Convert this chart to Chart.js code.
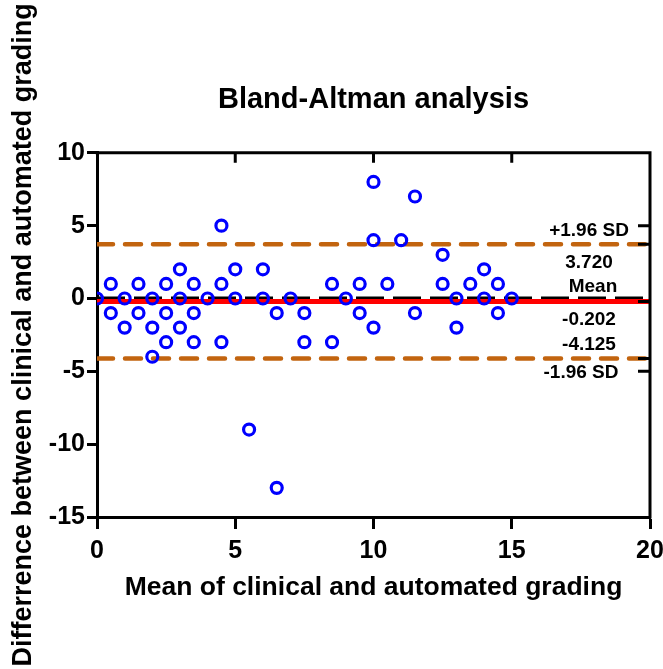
<!DOCTYPE html>
<html>
<head>
<meta charset="utf-8">
<title>Bland-Altman analysis</title>
<script src="https://cdn.jsdelivr.net/npm/chart.js@4.4.0/dist/chart.umd.min.js"></script>
<style>
  html, body { margin: 0; padding: 0; background: #fff; }
  #wrap { width: 663px; height: 669px; }
</style>
</head>
<body>
<div id="wrap"><canvas id="myChart" width="663" height="669"></canvas></div>
<script>
// mean of the two gradings (x) and their difference (y), one entry per case
const meanVals = [0, 0.5, 0.5, 1, 1, 1.5, 1.5, 2, 2, 2, 2.5, 2.5, 2.5, 3, 3, 3, 3.5, 3.5, 3.5, 4,
                  4.5, 4.5, 4.5, 5, 5, 5.5, 6, 6, 6.5, 6.5, 7, 7.5, 7.5, 8.5, 8.5, 9, 9.5, 9.5,
                  10, 10, 10, 10.5, 11, 11.5, 11.5, 12.5, 12.5, 13, 13, 13.5, 14, 14, 14.5, 14.5, 15];
const diffVals = [0, 1, -1, 0, -2, 1, -1, 0, -2, -4, 1, -1, -3, 2, 0, -2, 1, -1, -3, 0,
                  5, 1, -3, 2, 0, -9, 2, 0, -1, -13, 0, -1, -3, 1, -3, 0, 1, -1,
                  8, 4, -2, 1, 4, 7, -1, 3, 1, 0, -2, 1, 2, 0, 1, -1, 0];

// bias and limits of agreement
const bias = -0.202;
const upperLoA = 3.720;
const lowerLoA = -4.125;

// axis ticks
const xTicks = [0, 5, 10, 15, 20];
const yTicks = [-15, -10, -5, 0, 5, 10];
const topTicks = [5, 10, 15];
const rightTicks = [5, upperLoA, bias, lowerLoA, -5];

const FONT = "'Liberation Sans', Arial, Helvetica, sans-serif";
Chart.defaults.font.family = FONT;
Chart.defaults.color = '#000';

function hLine(v) {
    return [{ x: xTicks[0], y: v }, { x: xTicks[xTicks.length - 1], y: v }];
}

// moldura de cima e da direita + rótulos das linhas
const frame = {
    id: 'frame',
    afterDraw(chart) {
        const { ctx, chartArea: a, scales: { x, y } } = chart;
        ctx.save();
        ctx.strokeStyle = '#000';
        ctx.lineWidth = 3;
        ctx.beginPath();
        ctx.moveTo(a.left - 1.5, a.top);
        ctx.lineTo(a.right + 1.5, a.top);
        ctx.moveTo(a.right, a.top);
        ctx.lineTo(a.right, a.bottom + 1.5);
        topTicks.forEach(v => {
            const px = x.getPixelForValue(v);
            ctx.moveTo(px, a.top);
            ctx.lineTo(px, a.top + 10);
        });
        rightTicks.forEach(v => {
            const py = y.getPixelForValue(v);
            ctx.moveTo(a.right, py);
            ctx.lineTo(a.right - 12, py);
        });
        ctx.stroke();

        ctx.fillStyle = '#000';
        ctx.font = 'bold 19px ' + FONT;
        ctx.textAlign = 'center';
        ctx.textBaseline = 'middle';
        const cx = a.right - 61;
        const yu = y.getPixelForValue(upperLoA);
        const ym = y.getPixelForValue(bias);
        const yl = y.getPixelForValue(lowerLoA);
        ctx.fillText('+1.96 SD', cx, yu - 14);
        ctx.fillText(upperLoA.toFixed(3), cx, yu + 18);
        ctx.fillText('Mean', cx + 4, ym - 15);
        ctx.fillText(bias.toFixed(3), cx, ym + 18);
        ctx.fillText(lowerLoA.toFixed(3), cx, yl - 14);
        ctx.fillText('-1.96 SD', cx - 8, yl + 14);
        ctx.restore();
    }
};

const ctx = document.getElementById('myChart');

new Chart(ctx, {
    type: 'scatter',
    data: {
        datasets: [
            {
                label: 'Difference',
                data: meanVals.map((m, i) => ({ x: m, y: diffVals[i] })),
                pointStyle: 'circle',
                pointRadius: 5.5,
                pointBorderWidth: 3.2,
                pointBorderColor: '#0000FF',
                pointBackgroundColor: 'rgba(0,0,0,0)',
                order: 0
            },
            {
                label: 'Bias',
                data: hLine(bias),
                showLine: true,
                borderColor: '#FF0000',
                borderWidth: 5,
                pointRadius: 0,
                order: 1
            },
            {
                label: 'Zero',
                data: hLine(0),
                showLine: true,
                borderColor: '#000',
                borderWidth: 4,
                borderDash: [28, 9],
                pointRadius: 0,
                order: 2
            },
            {
                label: '+1.96 SD',
                data: hLine(upperLoA),
                showLine: true,
                borderColor: '#C2640F',
                borderWidth: 4.5,
                borderDash: [16, 12],
                borderCapStyle: 'round',
                pointRadius: 0,
                order: 1
            },
            {
                label: '-1.96 SD',
                data: hLine(lowerLoA),
                showLine: true,
                borderColor: '#C2640F',
                borderWidth: 4.5,
                borderDash: [16, 12],
                borderCapStyle: 'round',
                pointRadius: 0,
                order: 1
            }
        ]
    },
    options: {
        responsive: false,
        animation: false,
        layout: { padding: { left: 0, right: 13, top: 0, bottom: 0 } },
        plugins: {
            legend: { display: false },
            tooltip: { enabled: false },
            title: {
                display: true,
                text: 'Bland-Altman analysis',
                fullSize: false,
                color: '#000',
                font: { size: 29, weight: 'bold' },
                padding: { top: 83, bottom: 35 }
            }
        },
        scales: {
            x: {
                type: 'linear',
                position: 'bottom',
                min: xTicks[0],
                max: xTicks[xTicks.length - 1],
                afterBuildTicks: s => { s.ticks = xTicks.map(v => ({ value: v })); },
                afterFit: s => { s.height = 152; s.paddingLeft = 0; s.paddingRight = 0; },
                ticks: { font: { size: 25, weight: 'bold' }, padding: 7, color: '#000' },
                grid: { drawOnChartArea: false, drawTicks: true, tickLength: 12, tickWidth: 3, tickColor: '#000' },
                border: { display: true, width: 3, color: '#000' },
                title: {
                    display: true,
                    text: 'Mean of clinical and automated grading',
                    color: '#000',
                    font: { size: 26.5, weight: 'bold' },
                    padding: { top: 0, bottom: 65 }
                }
            },
            y: {
                type: 'linear',
                position: 'left',
                min: yTicks[0],
                max: yTicks[yTicks.length - 1],
                afterBuildTicks: s => { s.ticks = yTicks.map(v => ({ value: v })); },
                afterFit: s => { s.width = 97; },
                ticks: { font: { size: 25, weight: 'bold' }, padding: 2, color: '#000' },
                grid: { drawOnChartArea: false, drawTicks: true, tickLength: 10, tickWidth: 3, tickColor: '#000' },
                border: { display: true, width: 3, color: '#000' },
                title: {
                    display: true,
                    text: 'Differrence between clinical and automated grading',
                    color: '#000',
                    font: { size: 27, weight: 'bold' },
                    padding: { top: 7, bottom: 0 }
                }
            }
        }
    },
    plugins: [frame]
});
</script>
</body>
</html>
